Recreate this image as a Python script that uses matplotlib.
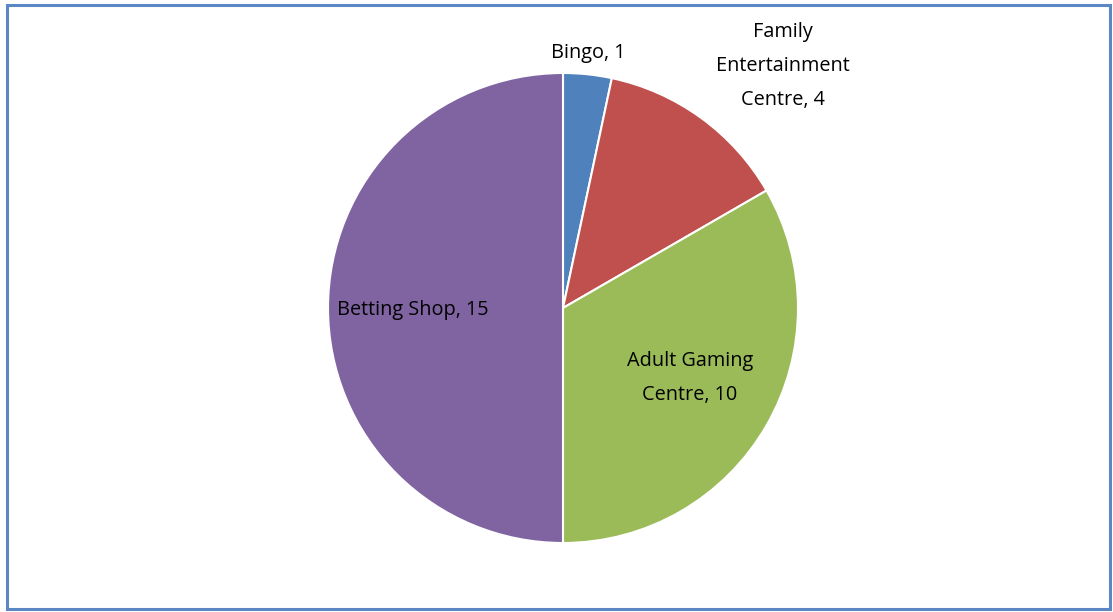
import matplotlib
matplotlib.use("Agg")
import matplotlib.pyplot as plt
from matplotlib.patches import Rectangle

categories = ["Bingo", "Family\nEntertainment\nCentre", "Adult Gaming\nCentre", "Betting Shop"]
values = [1, 4, 10, 15]
colors = ["#4F81BD", "#C0504D", "#9BBB59", "#8064A2"]

W, H = 1113, 612
fig = plt.figure(figsize=(W / 100, H / 100), dpi=100)
ax = fig.add_axes([0, 0, 1, 1])

cx, cy, r = 563, H - 308, 235
wedges, _ = ax.pie(values, center=(cx, cy), radius=r, startangle=90, counterclock=False,
                   colors=colors, wedgeprops=dict(edgecolor="white", linewidth=1.5),
                   frame=True)
ax.set_xlim(0, W)
ax.set_ylim(0, H)
ax.set_aspect("equal")
ax.axis("off")

label_pos = [(588, 53), (783, 66), (690, 378), (413, 310)]
for cat, v, (x, y) in zip(categories, values, label_pos):
    ax.text(x, H - y, f"{cat}, {v}", ha="center", va="center", fontsize=14.3,
            family="Open Sans", color="black", linespacing=1.95)

fig.patches.append(Rectangle((7, 3), 1103, 604, transform=None, fill=False,
                             edgecolor="#5B87C4", linewidth=2.2))

fig.savefig("out.png", dpi=100)
